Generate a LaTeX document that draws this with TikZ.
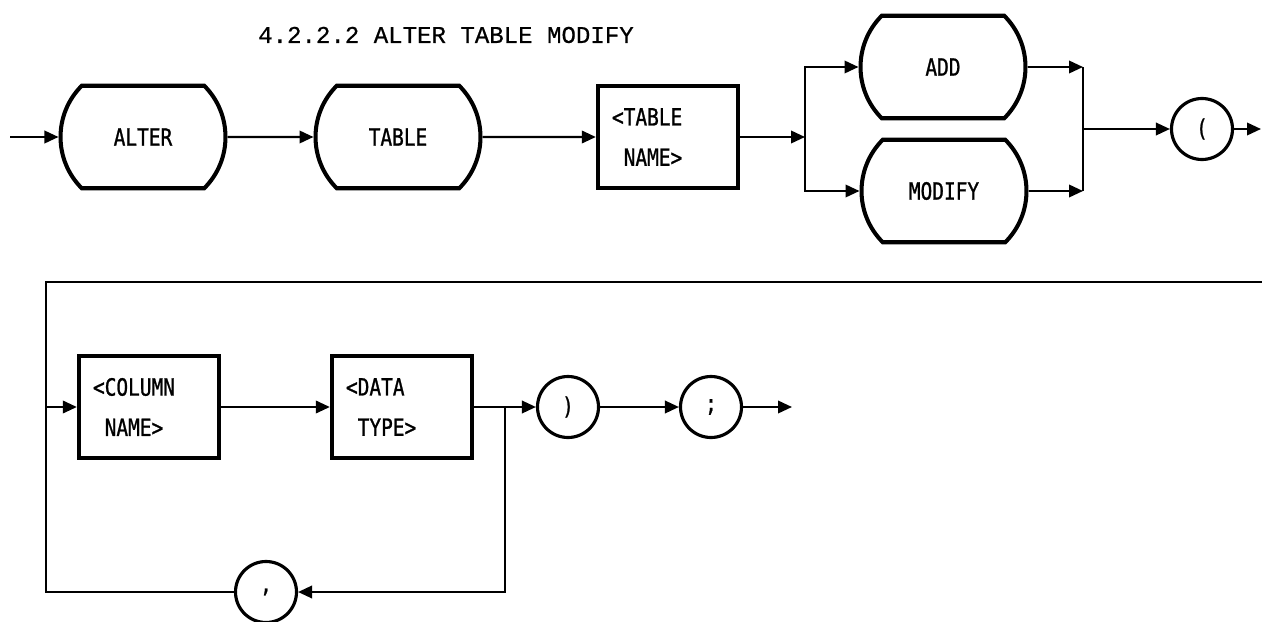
\documentclass[tikz,border=0pt]{standalone}
\usepackage{fontspec}
\usetikzlibrary{arrows.meta, shapes.misc}

\newfontfamily\titlefont{Liberation Mono}[FakeBold=0.6]
\newfontfamily\labelfont{DejaVu Sans Mono}[FakeStretch=0.82, FakeBold=1]

\tikzset{
    keyword/.style={draw, line width=2.3pt, rounded rectangle, rounded rectangle arc length=90,
        minimum width=3.3cm, minimum height=2.05cm, inner sep=0pt,
        font=\labelfont\fontsize{13.5}{15}\selectfont},
    nonterm/.style={draw, line width=2.5pt, rectangle, minimum height=2.03cm,
        text width=2.24cm, inner xsep=0.28cm, inner ysep=0pt, align=left,
        font=\labelfont\fontsize{13.5}{15}\selectfont},
    symbol/.style={draw, line width=1.8pt, circle, minimum size=1.22cm, inner sep=0pt,
        font=\labelfont\fontsize{13.5}{15}\selectfont},
    flow/.style={line width=1.2pt, ->}
}

\begin{document}
\begin{tikzpicture}[x=0.02cm, y=-0.02cm, >={Triangle[length=0.28cm,width=0.25cm]}]
    % Fix the page size
    \useasboundingbox (0,0) rectangle (1262,622);

    % Title
    \node[font=\titlefont\fontsize{13.7}{16}\selectfont] (title) at (446,35) {4.2.2.2 ALTER TABLE MODIFY};

    % First row
    \coordinate (start) at (10,137);
    \node[keyword] (alter) at (143,137) {ALTER};
    \node[keyword] (table) at (398,137) {TABLE};
    \node[nonterm] (tablename) at (668,137) {<TABLE\\[0.28cm]\hphantom{<}NAME>};
    \coordinate (split) at (805,137);
    \node[keyword] (add) at (943,67) {ADD};
    \node[keyword] (modify) at (944,191) {MODIFY};
    \coordinate (merge) at (1083,129);
    \node[symbol] (lparen) at (1202,129) {(};
    \coordinate (exit1) at (1261,129);

    \draw[flow] (start) -- (alter);
    \draw[flow] (alter) -- (table);
    \draw[flow] (table) -- (tablename);
    \draw[flow] (tablename) -- (split);
    \draw[flow] (split) |- (add);
    \draw[flow] (split) |- (modify);
    \draw[flow] (add.east) -- (add.east -| merge);
    \draw[flow] (modify.east) -- (modify.east -| merge);
    \draw[line width=1.2pt] (add.east -| merge) -- (modify.east -| merge);
    \draw[flow] (merge) -- (lparen);
    \draw[flow] (lparen) -- (exit1);

    % Second row
    \coordinate (wrapR) at (1262,282);
    \coordinate (wrapL) at (46,282);
    \node[nonterm] (colname) at (149,407) {<COLUMN\\[0.28cm]\hphantom{<}NAME>};
    \node[nonterm] (datatype) at (402,407) {<DATA\\[0.28cm]\hphantom{<}TYPE>};
    \coordinate (branch) at (505,407);
    \node[symbol] (rparen) at (568,407) {)};
    \node[symbol] (semi) at (711,407) {;};
    \coordinate (exit2) at (792,407);
    \node[symbol] (comma) at (266,592) {,};

    \draw[line width=1.2pt] (wrapR) -- (wrapL) |- (comma);
    \draw[flow] (wrapL |- colname) -- (colname);
    \draw[flow] (colname) -- (datatype);
    \draw[flow] (datatype) -- (rparen);
    \draw[flow] (branch) |- (comma);
    \draw[flow] (rparen) -- (semi);
    \draw[flow] (semi) -- (exit2);
\end{tikzpicture}
\end{document}
